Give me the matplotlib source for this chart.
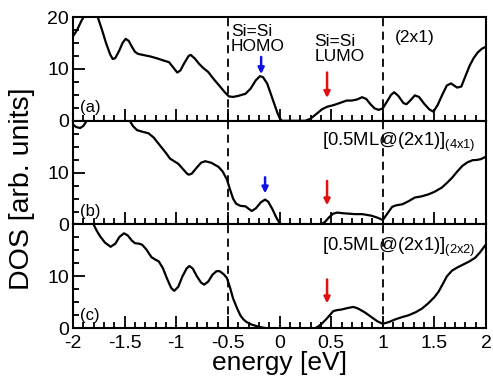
import numpy as np
import matplotlib
matplotlib.use('Agg')
import matplotlib.pyplot as plt
from matplotlib.ticker import MultipleLocator, FuncFormatter

plt.rcParams['font.family'] = ['Liberation Sans', 'DejaVu Sans']
plt.rcParams['axes.unicode_minus'] = False

# panel (a): clean (2x1)
e_a = [-2.0, -1.96, -1.92, -1.88, -1.84, -1.80, -1.76, -1.72, -1.68, -1.64, -1.615,
       -1.59, -1.55, -1.52, -1.49, -1.46, -1.43, -1.40, -1.37, -1.30, -1.25, -1.18,
       -1.12, -1.07, -1.03, -0.99, -0.96, -0.92, -0.88, -0.86, -0.82, -0.78, -0.74,
       -0.69, -0.64, -0.58, -0.53, -0.49, -0.45, -0.40, -0.33, -0.28, -0.23, -0.19,
       -0.16, -0.12, -0.09, -0.05, -0.02, 0.0, 0.02, 0.25, 0.30, 0.35, 0.41, 0.46,
       0.52, 0.58, 0.65, 0.70, 0.75, 0.80, 0.84, 0.88, 0.92, 0.96, 1.00, 1.04, 1.08,
       1.11, 1.15, 1.20, 1.23, 1.27, 1.31, 1.35, 1.40, 1.45, 1.49, 1.53, 1.58, 1.62,
       1.66, 1.72, 1.76, 1.80, 1.84, 1.88, 1.92, 1.96, 2.0]
dos_a = [16.3, 17.5, 19.2, 20.6, 21.3, 21.2, 20.0, 17.6, 15.0, 12.8, 11.9,
         12.1, 13.6, 15.0, 15.8, 15.4, 14.3, 13.3, 12.9, 12.6, 12.4, 12.0,
         11.6, 11.3, 10.3, 9.3, 9.7, 11.2, 12.5, 12.7, 12.0, 11.0, 10.2,
         9.4, 8.1, 6.7, 5.5, 4.7, 4.6, 4.8, 5.2, 6.2, 7.8, 8.6,
         8.4, 7.2, 5.5, 3.2, 1.5, 0.6, 0.0, 0.0, 0.4, 1.2, 2.2, 2.7,
         3.0, 3.4, 3.9, 3.9, 4.1, 4.55, 4.2, 3.2, 2.4, 2.1, 2.4, 3.7, 5.0,
         5.5, 4.8, 3.4, 3.2, 4.0, 4.9, 4.6, 3.3, 2.2, 1.75, 3.0, 5.2, 6.8,
         7.2, 6.4, 6.6, 8.6, 10.6, 12.1, 13.2, 13.9, 14.3]

# panel (b): 0.5ML on (2x1), (4x1) cell
e_b = [-2.0, -1.97, -1.93, -1.90, -1.86, -1.80, -1.65, -1.50, -1.45, -1.42, -1.38,
       -1.33, -1.27, -1.22, -1.16, -1.10, -1.06, -1.02, -0.98, -0.94, -0.90, -0.88,
       -0.85, -0.80, -0.76, -0.72, -0.66, -0.59, -0.55, -0.51, -0.48, -0.45, -0.42,
       -0.38, -0.33, -0.27, -0.23, -0.18, -0.14, -0.11, -0.07, -0.03, 0.0, 0.02,
       0.40, 0.44, 0.48, 0.52, 0.56, 0.60, 0.66, 0.73, 0.80, 0.89, 0.95, 1.00,
       1.04, 1.09, 1.13, 1.19, 1.25, 1.31, 1.37, 1.44, 1.50, 1.57, 1.62, 1.67,
       1.72, 1.77, 1.82, 1.87, 1.91, 1.95, 2.0]
dos_b = [19.3, 18.8, 18.6, 19.0, 20.2, 21.5, 22.0, 21.0, 20.0, 19.0, 18.2,
         17.9, 17.6, 16.8, 15.3, 13.8, 12.7, 12.2, 11.7, 10.8, 9.9, 9.6,
         9.8, 11.0, 11.9, 12.2, 11.9, 11.1, 10.2, 8.7, 6.8, 5.0, 4.0,
         3.6, 3.5, 2.6, 3.1, 4.3, 4.8, 4.4, 3.0, 1.3, 0.3, 0.0,
         0.0, 0.5, 1.4, 2.1, 2.3, 2.2, 2.1, 2.0, 2.0, 1.7, 1.3, 0.85,
         2.0, 3.4, 3.7, 3.9, 4.5, 5.2, 5.4, 5.8, 6.3, 7.1, 8.0, 9.0,
         10.2, 11.3, 12.0, 12.4, 12.45, 12.6, 13.1]

# panel (c): 0.5ML on (2x1), (2x2) cell
e_c = [-1.90, -1.82, -1.80, -1.77, -1.74, -1.69, -1.635, -1.59, -1.55, -1.506, -1.47,
       -1.43, -1.40, -1.36, -1.33, -1.29, -1.24, -1.20, -1.17, -1.13, -1.09, -1.05,
       -1.02, -0.98, -0.94, -0.90, -0.873, -0.84, -0.80, -0.76, -0.73, -0.69, -0.65,
       -0.61, -0.58, -0.54, -0.51, -0.48, -0.45, -0.41, -0.38, -0.35, -0.32, -0.27,
       -0.22, -0.16, -0.12, 0.345, 0.38, 0.41, 0.45, 0.49, 0.52, 0.56, 0.60, 0.66,
       0.716, 0.76, 0.83, 0.90, 0.95, 1.0, 1.06, 1.12, 1.18, 1.25, 1.32, 1.38, 1.44,
       1.50, 1.54, 1.58, 1.62, 1.67, 1.72, 1.78, 1.84, 1.895, 1.94, 2.0]
dos_c = [22.5, 20.5, 20.0, 18.8, 17.8, 16.5, 15.7, 16.3, 17.6, 18.3, 17.9,
         16.9, 16.4, 16.3, 16.1, 15.2, 13.7, 13.2, 12.9, 11.6, 9.6, 7.8,
         7.2, 8.0, 10.0, 11.5, 12.0, 11.5, 10.0, 8.8, 8.4, 9.0, 10.3,
         11.0, 11.0, 10.4, 9.7, 7.9, 5.75, 3.8, 2.5, 1.7, 1.2, 0.7,
         0.4, 0.1, 0.0, 0.0, 0.4, 0.9, 1.7, 2.6, 3.3, 3.5, 3.6, 3.9,
         4.1, 3.8, 3.0, 2.0, 1.3, 0.85, 1.2, 1.7, 2.1, 2.5, 3.1, 3.8, 4.8,
         6.0, 7.05, 8.5, 10.0, 11.1, 11.7, 12.3, 12.9, 13.6, 14.6, 16.2]

energies = [e_a, e_b, e_c]
dos = [dos_a, dos_b, dos_c]
panel_tags = ['(a)', '(b)', '(c)']

# arrows: (energy, tail, head)
homo_arrows = [(-0.178, 12.3, 9.0), (-0.14, 9.1, 6.0), None]
lumo_arrows = [(0.46, 9.3, 4.4), (0.46, 8.4, 3.7), (0.46, 9.4, 4.8)]

fig = plt.figure(figsize=(4.93, 3.79), dpi=100)
left, right = 0.148, 0.986
top, bottom = 0.955, 0.134
h = (top - bottom) / 3.0

fmt = FuncFormatter(lambda v, p: ('%g' % v))

axes = []
for i in range(3):
    ax = fig.add_axes([left, top - (i + 1) * h, right - left, h])
    axes.append(ax)
    ax.plot(energies[i], dos[i], color='black', lw=1.6,
            solid_joinstyle='round', solid_capstyle='round')
    ax.set_xlim(-2, 2)
    ax.set_ylim(0, 20)
    for xv in (-0.5, 1.0):
        ax.axvline(xv, color='black', lw=1.3, ls=(0, (4.5, 3)))
    ax.xaxis.set_major_locator(MultipleLocator(0.5))
    ax.xaxis.set_minor_locator(MultipleLocator(0.1))
    ax.yaxis.set_major_locator(MultipleLocator(10))
    ax.yaxis.set_minor_locator(MultipleLocator(2.5))
    ax.tick_params(which='both', direction='in', top=False, right=False,
                   labelsize=14, width=1.3)
    ax.tick_params(axis='y', pad=3)
    ax.tick_params(axis='x', pad=5)
    ax.tick_params(which='major', length=8.5)
    ax.tick_params(which='minor', length=4.5)
    for s in ax.spines.values():
        s.set_linewidth(1.5)
    ax.xaxis.set_major_formatter(fmt)
    if i < 2:
        ax.tick_params(labelbottom=False)
    if i > 0:
        ax.set_yticks([0, 10])
        ax.yaxis.set_minor_locator(MultipleLocator(2.5))
    ax.text(-1.93, 1.6, panel_tags[i], fontsize=12)

    if homo_arrows[i] is not None:
        x0, y0, y1 = homo_arrows[i]
        ax.annotate('', xy=(x0, y1), xytext=(x0, y0),
                    arrowprops=dict(arrowstyle='-|>', color='#1010e0', lw=1.8,
                                    mutation_scale=9, shrinkA=0, shrinkB=0))
    x0, y0, y1 = lumo_arrows[i]
    ax.annotate('', xy=(x0, y1), xytext=(x0, y0),
                arrowprops=dict(arrowstyle='-|>', color='#e01010', lw=1.8,
                                mutation_scale=9, shrinkA=0, shrinkB=0))

axes[0].text(-0.47, 18.7, 'Si=Si\nHOMO', fontsize=12.5, va='top', ha='left', linespacing=1.0)
axes[0].text(0.335, 16.8, 'Si=Si\nLUMO', fontsize=12.5, va='top', ha='left', linespacing=1.0)
axes[0].text(1.12, 17.6, '(2x1)', fontsize=12.5, va='top', ha='left')
axes[1].text(0.41, 15.9, r'[0.5ML@(2x1)]$_{\mathregular{(4x1)}}$', fontsize=13.3, va='center', ha='left')
axes[2].text(0.41, 15.5, r'[0.5ML@(2x1)]$_{\mathregular{(2x2)}}$', fontsize=13.3, va='center', ha='left')

axes[2].set_xlabel('energy [eV]', fontsize=19, labelpad=-1)
fig.text(0.045, 0.502, 'DOS [arb. units]', rotation=90, fontsize=20.5,
         ha='center', va='center')

fig.savefig('out.png', dpi=100)
